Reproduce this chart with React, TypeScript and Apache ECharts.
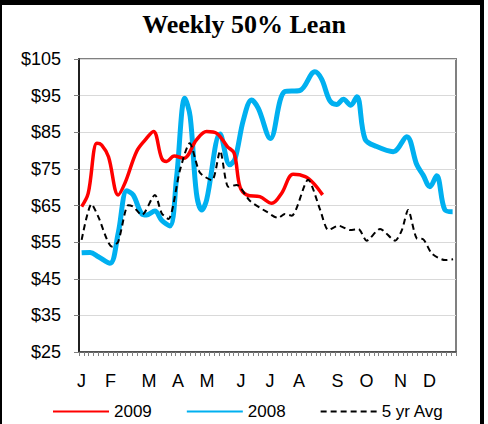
import React, { useEffect, useRef } from "react";
import * as echarts from "echarts";

const TITLE = "Weekly 50% Lean";
const CATEGORY_COUNT = 78;
const MONTH_LABELS = ["J", "F", "M", "A", "M", "J", "J", "A", "S", "O", "N", "D"];
const MONTH_POSITIONS = [0, 6, 14, 20, 26, 33, 39, 45, 53, 59, 66, 72];
const Y_MIN = 25;
const Y_MAX = 105;
const Y_STEP = 10;

const SERIES_NAMES = ["2009", "2008", "5 yr Avg"];

const DATA_2009: [number, number][] = [
  [0.55, 64.7], [1.9, 68.3], [3.7, 82.0], [4.7, 81.5], [6.1, 78.3], [8.1, 67.9],
  [9.5, 71.1], [11.9, 79.7], [13.7, 82.9], [15.4, 85.2], [17.1, 77.9], [18.1, 77.0],
  [19.7, 78.5], [21.7, 77.9], [24.3, 82.9], [26.4, 85.2], [28.5, 84.7], [30.7, 81.1],
  [32.1, 79.3], [33.3, 70.1], [34.7, 67.9], [37.4, 67.4], [39.9, 65.6], [41.9, 68.3],
  [44.3, 73.5], [46.8, 72.9], [48.5, 71.1], [50.4, 67.9],
];

const DATA_2008: [number, number][] = [
  [0.55, 52.1], [2.3, 52.2], [4.0, 51.0], [6.4, 49.2], [8.1, 57.4], [9.9, 69.0],
  [11.2, 67.9], [13.0, 62.7], [14.0, 62.4], [15.7, 63.5], [17.1, 61.0], [18.8, 59.4],
  [20.2, 72.9], [21.9, 94.3], [23.0, 89.3], [24.3, 68.3], [25.4, 63.8], [26.4, 66.5],
  [29.2, 84.5], [31.2, 76.1], [32.3, 77.8], [34.0, 88.3], [35.7, 93.8], [37.1, 91.5],
  [39.6, 83.3], [42.6, 96.1], [45.7, 96.4], [48.8, 101.5], [50.2, 99.5], [51.9, 93.6],
  [53.3, 92.6], [54.7, 94.0], [56.2, 92.4], [57.5, 94.7], [59.2, 83.1], [61.6, 81.1],
  [65.0, 79.7], [67.8, 83.8], [69.9, 76.1], [71.2, 73.3], [72.6, 70.1], [74.0, 73.1],
  [75.7, 63.8], [77.3, 63.3],
];

const DATA_AVG: [number, number][] = [
  [0.55, 55.6], [2.6, 65.4], [4.0, 61.9], [6.8, 53.8], [8.1, 55.1], [10.2, 65.1],
  [11.2, 64.7], [13.0, 62.4], [15.7, 67.9], [17.1, 62.9], [18.5, 61.3], [20.9, 74.7],
  [22.9, 82.0], [25.0, 74.0], [27.5, 71.9], [29.2, 79.9], [30.9, 70.1], [32.6, 70.6],
  [35.4, 66.2], [38.8, 63.3], [41.2, 61.6], [42.6, 62.7], [44.0, 62.2], [47.4, 72.0],
  [49.9, 63.8], [51.6, 58.3], [53.7, 59.5], [56.1, 58.3], [57.8, 58.6], [59.5, 55.4],
  [62.3, 58.6], [65.4, 55.4], [66.8, 58.3], [68.1, 63.8], [69.9, 56.0], [71.2, 55.8],
  [73.0, 51.9], [75.7, 50.1], [77.4, 50.3],
];

const COLORS = ["#FF0000", "#00B0F0", "#000000"];

export default function App() {
  const ref = useRef<HTMLDivElement>(null);

  useEffect(() => {
    if (!ref.current) return;
    const chart = echarts.init(ref.current, undefined, { renderer: "svg" });
    const categories = Array.from({ length: CATEGORY_COUNT }, (_, i) => {
      const k = MONTH_POSITIONS.indexOf(i);
      return k >= 0 ? MONTH_LABELS[k] : "";
    });

    chart.setOption({
      animation: false,
      backgroundColor: "#ffffff",
      title: {
        text: TITLE,
        left: "center",
        top: 6,
        textStyle: {
          fontFamily: "Liberation Serif",
          fontWeight: "bold",
          fontSize: 26,
          color: "#000",
        },
      },
      legend: {
        left: 47,
        top: 398,
        itemWidth: 56,
        itemHeight: 14,
        itemGap: 34,
        itemStyle: { opacity: 0, borderWidth: 0 },
        textStyle: { fontFamily: "Liberation Sans", fontSize: 17, color: "#000" },
        data: SERIES_NAMES,
      },
      grid: {
        left: 79,
        top: 59,
        right: 32,
        bottom: 72,
        show: true,
        borderColor: "#808080",
        borderWidth: 2,
        backgroundColor: "#fff",
      },
      xAxis: [
        {
          type: "category",
          data: categories,
          boundaryGap: true,
          axisLine: { lineStyle: { color: "#404040", width: 1.5 } },
          axisTick: { show: true, interval: 0, length: 4, lineStyle: { color: "#808080" } },
          axisLabel: {
            interval: 0,
            margin: 20,
            fontFamily: "Liberation Sans",
            fontSize: 18,
            color: "#000",
          },
          splitLine: { show: false },
        },
        {
          type: "value",
          min: 0,
          max: CATEGORY_COUNT,
          show: false,
          splitLine: { show: false },
        },
      ],
      yAxis: {
        type: "value",
        min: Y_MIN,
        max: Y_MAX,
        interval: Y_STEP,
        axisLine: { show: true, lineStyle: { color: "#000", width: 1.5 } },
        axisTick: { show: true, length: 5, lineStyle: { color: "#808080" } },
        axisLabel: {
          margin: 18,
          fontFamily: "Liberation Sans",
          fontSize: 18,
          color: "#000",
          formatter: (v: number) => "$" + v,
        },
        splitLine: { lineStyle: { color: "#d9d9d9", width: 1 } },
      },
      series: [
        {
          name: SERIES_NAMES[0],
          type: "line",
          xAxisIndex: 1,
          data: DATA_2009,
          smooth: 0.35,
          symbol: "none",
          z: 4,
          lineStyle: { color: COLORS[0], width: 3.5 },
          itemStyle: { color: COLORS[0] },
        },
        {
          name: SERIES_NAMES[1],
          type: "line",
          xAxisIndex: 1,
          data: DATA_2008,
          smooth: 0.35,
          symbol: "none",
          z: 3,
          lineStyle: { color: COLORS[1], width: 5 },
          itemStyle: { color: COLORS[1] },
        },
        {
          name: SERIES_NAMES[2],
          type: "line",
          xAxisIndex: 1,
          data: DATA_AVG,
          smooth: 0.25,
          symbol: "none",
          z: 5,
          lineStyle: { color: COLORS[2], width: 2, type: [6, 4] },
          itemStyle: { color: COLORS[2] },
        },
      ],
      graphic: [
        { type: "rect", shape: { x: 0, y: 0, width: 484, height: 5 }, style: { fill: "#000" }, silent: true },
        { type: "rect", shape: { x: 0, y: 0, width: 2, height: 424 }, style: { fill: "#000" }, silent: true },
        { type: "rect", shape: { x: 480, y: 0, width: 4, height: 424 }, style: { fill: "#000" }, silent: true },
      ],
    });
    return () => chart.dispose();
  }, []);

  return (
    <div
      ref={ref}
      style={{ position: "fixed", left: 0, top: 0, width: 488, height: 424 }}
    />
  );
}
